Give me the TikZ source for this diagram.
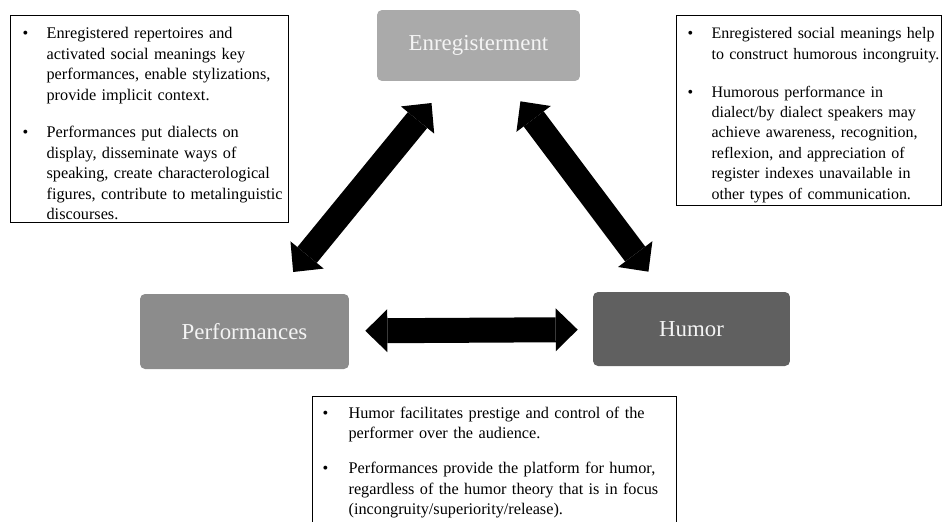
\documentclass[tikz,border=0pt]{standalone}
\usepackage{fontspec}
\setmainfont{Liberation Serif}
\usepackage{tikz}
\usetikzlibrary{arrows.meta}
\usepackage{xcolor}

\definecolor{enrgray}{HTML}{AAAAAA}
\definecolor{perfgray}{HTML}{8C8C8C}
\definecolor{humgray}{HTML}{606060}
\definecolor{titlewhite}{HTML}{F4F4F4}

\hyphenpenalty=10000
\exhyphenpenalty=10000

% bullet point: #1 bullet offset, #2 label width, #3 text
\newcommand{\bpoint}[3]{\par\noindent\hangindent=\dimexpr#1+#2\relax\hangafter=1%
  \hspace*{#1}\makebox[#2][l]{\textbullet}#3\par}

\begin{document}
\begin{tikzpicture}[
    x=0.02cm, y=-0.02cm,
    concept/.style={rounded corners=0.1cm, text=titlewhite, inner sep=0pt,
      font=\fontsize{13}{15.6}\selectfont},
    enrbox/.style={concept, fill=enrgray, minimum width=4.06cm, minimum height=1.42cm},
    perfbox/.style={concept, fill=perfgray, minimum width=4.18cm, minimum height=1.5cm},
    humbox/.style={concept, fill=humgray, minimum width=3.94cm, minimum height=1.48cm},
    note/.style={draw=black, line width=0.7pt, align=left, inner ysep=0.06cm,
      inner xsep=0.06cm, anchor=north west, font=\fontsize{9.25}{11.6}\selectfont},
    dbl/.style={{Triangle[length=0.44cm, width=0.86cm, line width=0pt]}-{Triangle[length=0.44cm, width=0.86cm, line width=0pt]},
      line width=0.5cm},
  ]
    \useasboundingbox (0,0) rectangle (942,521);

    \node[enrbox] (enr) at (478.5,45.5) {Enregisterment};
    \node[perfbox] (perf) at (244.5,331.5) {Performances};
    \node[humbox] (hum) at (691.5,329) {Humor};

    \node[note, text width=5.44cm, minimum height=4.14cm] (enrnote) at (10,15)
      {\bpoint{0.18cm}{0.48cm}{Enregistered repertoires and activated social meanings key performances, enable stylizations, provide implicit context.}
       \vspace{9.9pt}
       \bpoint{0.18cm}{0.48cm}{Performances put dialects on display, disseminate ways of speaking, create characterological figures, contribute to metalinguistic discourses.}};

    \node[note, text width=5.3cm, inner xsep=0pt, minimum height=3.74cm,
      font=\fontsize{9.1}{11.6}\selectfont] (humnote) at (676,15)
      {\bpoint{0.22cm}{0.48cm}{Enregistered social meanings help to construct humorous incongruity.}
       \vspace{9.9pt}
       \bpoint{0.22cm}{0.48cm}{Humorous performance in dialect/by dialect speakers may achieve awareness, recognition, reflexion, and appreciation of register indexes unavailable in other types of communication.}};

    \node[note, text width=7.16cm, inner ysep=0.02cm, text depth=3cm] (perfnote) at (312,396)
      {\bpoint{0.14cm}{0.52cm}{Humor facilitates prestige and control of the performer over the audience.}
       \vspace{8.5pt}
       \bpoint{0.14cm}{0.52cm}{Performances provide the platform for humor, regardless of the humor theory that is in focus (incongruity/superiority/release).}};

    \draw[dbl, shorten <=0.56cm, shorten >=0.56cm] (enr) -- (perf);
    \draw[dbl, shorten <=0.5cm, shorten >=0.5cm] (enr) -- (hum);
    \draw[dbl, shorten <=0.32cm, shorten >=0.3cm] (perf) -- (hum);
\end{tikzpicture}
\end{document}
